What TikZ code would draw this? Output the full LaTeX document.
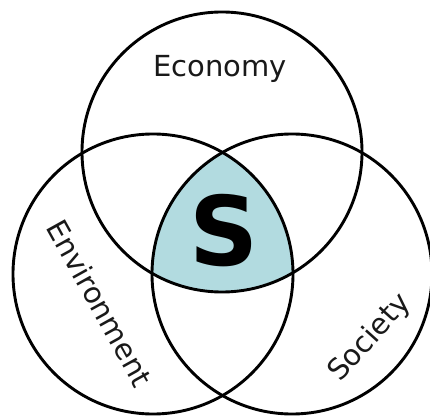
\documentclass[tikz,border=0pt]{standalone}
\usepackage{fontspec}
\setmainfont{DejaVu Sans}
\begin{document}
\begin{tikzpicture}[x=1pt,y=1pt,
  ring/.style={draw=black, line width=2.9pt, circle, minimum size=280pt, inner sep=0pt},
  label/.style={font=\fontsize{29}{29}\selectfont, text=black!90, inner sep=0pt}]
\definecolor{coreblue}{RGB}{178,219,224}
\useasboundingbox (0,0) rectangle (430,415);
\coordinate (ctop) at (222,263);
\coordinate (cleft) at (153,141);
\coordinate (cright) at (292,141);
% shared core of the three circles
\begin{scope}
  \clip (ctop) circle (140);
  \clip (cleft) circle (140);
  \fill[coreblue] (cright) circle (140);
\end{scope}
\node[ring] (econ) at (ctop) {};
\node[ring] (env) at (cleft) {};
\node[ring] (soc) at (cright) {};
\node[label] (econlbl) at (220,346) {Economy};
\node[label, rotate=-61] (envlbl) at (100,112) {Environment};
\node[label, rotate=48] (soclbl) at (370,77) {Society};
\node[font=\fontsize{96}{96}\bfseries\selectfont, inner sep=0pt] (core) at (224,184) {S};
\end{tikzpicture}
\end{document}
